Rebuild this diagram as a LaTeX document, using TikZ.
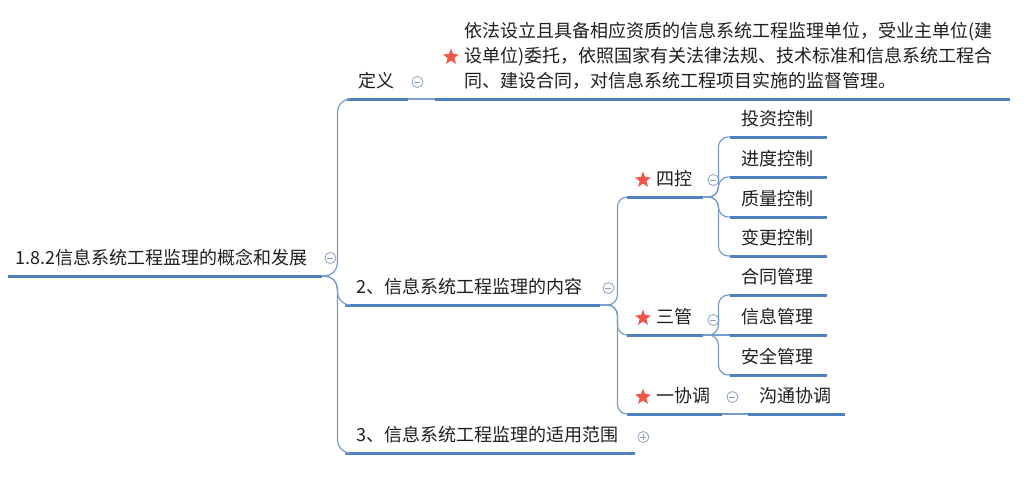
\documentclass[tikz,border=0pt]{standalone}
\usepackage{fontspec}
\setmainfont{Noto Sans CJK SC}
\usetikzlibrary{shapes.geometric}
\definecolor{ulblue}{RGB}{79,129,189}
\definecolor{lnblue}{RGB}{118,156,204}
\definecolor{starred}{RGB}{240,86,72}
\definecolor{cgray}{RGB}{140,160,192}
\definecolor{txt}{RGB}{30,30,30}
\begin{document}
\begin{tikzpicture}[x=1pt,y=-1pt,
  topic/.style={anchor=south west, inner xsep=11pt, inner ysep=0pt, text height=14pt, text depth=11pt, align=left, font=\fontsize{18}{25}\selectfont, text=txt},
  rootstyle/.style={topic, inner xsep=7pt},
  deftextstyle/.style={anchor=south west, inner xsep=0pt, inner ysep=0pt, text depth=11pt, font=\fontsize{18}{25}\selectfont, text=txt},
  uline/.style={draw=ulblue, line width=3pt},
  conn/.style={draw=lnblue, line width=1.2pt, rounded corners=10pt},
  fork/.style={to path={-- ++(#1,0) |- (\tikztotarget)}},
  starmark/.style={star, star points=5, star point ratio=2.4, fill=starred, draw=none, minimum size=17pt, inner sep=0pt},
  coll/.style={circle, draw=cgray, line width=0.8pt, minimum size=11pt, inner sep=0pt,
    path picture={\draw[cgray, line width=0.8pt] ([xshift=-3pt]path picture bounding box.center) -- ([xshift=3pt]path picture bounding box.center);}},
  expd/.style={coll, path picture={\draw[cgray, line width=0.8pt] ([xshift=-3pt]path picture bounding box.center) -- ([xshift=3pt]path picture bounding box.center) ([yshift=-3pt]path picture bounding box.center) -- ([yshift=3pt]path picture bounding box.center);}}
]
\useasboundingbox (0,0) rectangle (1026,491);

% topics
\node[rootstyle, text width=300pt] (root) at (8,276) {1.8.2信息系统工程监理的概念和发展};
\node[topic, text width=39pt] (def) at (347,99) {定义};
\node[deftextstyle] (deftext) at (435,99) {\parbox[b]{575pt}{\raggedright\hspace*{29pt}依法设立且具备相应资质的信息系统工程监理单位，受业主单位(建\\\hspace*{29pt}设单位)委托，依照国家有关法律法规、技术标准和信息系统工程合\\\hspace*{29pt}同、建设合同，对信息系统工程项目实施的监督管理。}};
\node[topic, text width=233pt] (content) at (345,305) {2、信息系统工程监理的内容};
\node[topic, text width=268pt] (scope) at (345,453) {3、信息系统工程监理的适用范围};
\node[topic, text width=54pt] (sikong) at (627,197) {\hspace*{18pt}四控};
\node[topic, text width=54pt] (sanguan) at (627,335) {\hspace*{18pt}三管};
\node[topic, text width=73pt] (yxt) at (627,414) {\hspace*{18pt}一协调};
\node[topic, text width=75pt] (tz) at (730,137) {投资控制};
\node[topic, text width=75pt] (jd) at (730,177) {进度控制};
\node[topic, text width=75pt] (zl) at (730,217) {质量控制};
\node[topic, text width=75pt] (bg) at (730,256) {变更控制};
\node[topic, text width=75pt] (ht) at (730,295) {合同管理};
\node[topic, text width=75pt] (xx) at (730,335) {信息管理};
\node[topic, text width=75pt] (aq) at (730,375) {安全管理};
\node[topic, text width=75pt] (gt) at (748,414) {沟通协调};

% underlines
\foreach \n in {root,def,deftext,content,scope,sikong,sanguan,yxt,tz,jd,zl,bg,ht,xx,aq,gt}
  \draw[uline] (\n.south west) -- (\n.south east);

% stars
\node[starmark] (s0) at ([xshift=16pt,yshift=42pt]deftext.south west) {};
\node[starmark] (s1) at ([xshift=16pt,yshift=17pt]sikong.south west) {};
\node[starmark] (s2) at ([xshift=16pt,yshift=17pt]sanguan.south west) {};
\node[starmark] (s3) at ([xshift=16pt,yshift=17pt]yxt.south west) {};

% collapse markers
\node[coll] (c0) at ([xshift=8pt,yshift=18pt]root.south east) {};
\node[coll] (c1) at ([xshift=9pt,yshift=17pt]def.south east) {};
\node[coll] (c2) at ([xshift=8pt,yshift=17pt]content.south east) {};
\node[expd] (c3) at ([xshift=8pt,yshift=16pt]scope.south east) {};
\node[coll] (c4) at ([xshift=10pt,yshift=17pt]sikong.south east) {};
\node[coll] (c5) at ([xshift=10pt,yshift=15pt]sanguan.south east) {};
\node[coll] (c6) at ([xshift=10pt,yshift=17pt]yxt.south east) {};

% connectors
\draw[conn, rounded corners=13pt] (root.south east) to[fork=15] (def.south west);
\draw[conn, rounded corners=13pt] (root.south east) to[fork=15] (content.south west);
\draw[conn, rounded corners=13pt] (root.south east) to[fork=15] (scope.south west);
\draw[conn] (def.south east) -- (deftext.south west);
\draw[conn] (content.south east) to[fork=17] (sikong.south west);
\draw[conn] (content.south east) to[fork=17] (sanguan.south west);
\draw[conn] (content.south east) to[fork=17] (yxt.south west);
\draw[conn] (sikong.south east) to[fork=15] (tz.south west);
\draw[conn] (sikong.south east) to[fork=15] (jd.south west);
\draw[conn] (sikong.south east) to[fork=15] (zl.south west);
\draw[conn] (sikong.south east) to[fork=15] (bg.south west);
\draw[conn] (sanguan.south east) to[fork=15] (ht.south west);
\draw[conn] (sanguan.south east) -- (xx.south west);
\draw[conn] (sanguan.south east) to[fork=15] (aq.south west);
\draw[conn] (yxt.south east) -- (gt.south west);
\end{tikzpicture}
\end{document}
